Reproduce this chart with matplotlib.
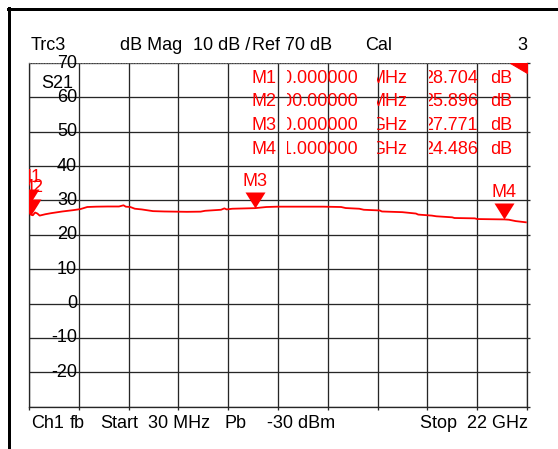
import numpy as np
import matplotlib
matplotlib.use("Agg")
import matplotlib.pyplot as plt
from matplotlib.transforms import Bbox
from matplotlib.lines import Line2D
from matplotlib.patches import Polygon

# trace S21, frequency in GHz, magnitude in dB
freq_ghz = [0.03, 0.06, 0.10, 0.20, 0.30, 0.40, 0.50, 0.75, 1.0, 1.5, 2.0, 2.3, 2.6,
            3.0, 3.5, 4.0, 4.2, 4.3, 4.5, 4.7, 5.0, 5.5, 6.0, 7.0, 7.6, 7.8, 8.5,
            8.65, 8.75, 9.0, 10.0, 10.5, 11.0, 12.0, 13.0, 13.8, 14.0, 14.6, 14.8,
            15.5, 15.6, 16.5, 17.1, 17.2, 17.8, 18.0, 18.7, 18.8, 19.7, 19.8, 21.0,
            21.2, 21.5, 21.95]
s21_db = [28.70, 26.5, 25.90, 25.7, 26.5, 26.2, 25.6, 26.0, 26.3, 26.8, 27.2, 27.5, 28.1,
          28.2, 28.25, 28.25, 28.6, 28.2, 28.1, 27.6, 27.4, 26.9, 26.8, 26.7, 26.75, 27.0, 27.3,
          27.7, 27.4, 27.6, 27.77, 28.1, 28.2, 28.2, 28.2, 28.1, 27.8, 27.6, 27.3,
          27.1, 26.8, 26.6, 26.2, 25.9, 25.6, 25.4, 25.1, 24.9, 24.8, 24.6, 24.49,
          24.4, 24.0, 23.65]

marker_names = ["M1", "M2", "M3", "M4"]
marker_freq_ghz = [0.03, 0.1, 10.0, 21.0]
marker_db = [28.704, 25.896, 27.771, 24.486]
marker_freq_text = ["30.000000", "100.00000", "10.000000", "21.000000"]
marker_freq_unit = ["MHz", "MHz", "GHz", "GHz"]

y_ticks = [70, 60, 50, 40, 30, 20, 10, 0, -10, -20]
header_items = ["Trc3", "dB Mag", "10 dB /", "Ref 70 dB", "Cal"]
header_right = "3"
footer_items = ["Ch1", "fb", "Start", "30 MHz", "Pb", "-30 dBm"]
footer_right = "Stop  22 GHz"

W, H = 558, 449
DPI = 72
FONT = ["Liberation Sans", "DejaVu Sans"]
FS = 18
RED = "#ff0000"

fig = plt.figure(figsize=(W / DPI, H / DPI), dpi=DPI)
fig.patch.set_facecolor("white")

def fx(x):
    return x / W

def fy(y):
    return 1 - y / H

# grid box in pixels
gx0, gx1, gy0, gy1 = 29, 527, 63, 406.7
ax = fig.add_axes([fx(gx0), fy(gy1), (gx1 - gx0) / W, (gy1 - gy0) / H])
ax.set_xlim(0.03, 22)
ax.set_ylim(-30, 70)
ax.set_xticks(np.linspace(0.03, 22, 11))
ax.set_yticks(np.arange(-30, 71, 10))
ax.grid(True, color="#262626", lw=1.3)
ax.tick_params(left=False, top=False, bottom=True, right=True, length=2.5,
               width=1.3, color="#262626", labelbottom=False, labelleft=False)
for s in ["left", "bottom", "right"]:
    ax.spines[s].set_color("#262626")
    ax.spines[s].set_linewidth(1.3)
ax.spines["top"].set_linestyle(":")
ax.spines["top"].set_color("#666666")
ax.spines["top"].set_linewidth(1)

# y labels inside the grid
for v in y_ticks:
    ax.text((77 - gx0) / (gx1 - gx0), v, str(v), transform=ax.get_yaxis_transform(),
            ha="right", va="center", fontsize=FS, family=FONT, color="black")
fig.text(fx(41), fy(84), "S21", ha="left", va="center", fontsize=FS, family=FONT)

# trace
ax.plot(freq_ghz, s21_db, color=RED, lw=1.8, zorder=4)

# marker triangles and labels
tri = [(0, 0), (-10, 16), (10, 16)]
for name, f, d in zip(marker_names, marker_freq_ghz, marker_db):
    ax.plot([f], [d], marker=tri, ms=32, color=RED, mec=RED, mew=0, ls="none", zorder=5)
    ax.annotate(name, (f, d), xytext=(0, 27), textcoords="offset points",
                ha="center", va="center", color=RED, fontsize=FS, family=FONT,
                clip_on=True, zorder=5)

# red corner flag
ax.add_patch(Polygon([(1 - 17 / (gx1 - gx0), 1), (1, 1), (1, 1 - 10 / (gy1 - gy0))],
                     closed=True, transform=ax.transAxes, color=RED, clip_on=False, zorder=6))

# marker table, fields clipped at their left edge
row_y = [78.5, 102, 125.5, 149]

def clipped(x_right, y, s, clip_left):
    t = fig.text(fx(x_right), fy(y), s, ha="right", va="center", fontsize=FS,
                 family=FONT, color=RED)
    t.set_clip_box(Bbox.from_extents(clip_left, 0, W, H))
    t.set_clip_on(True)

for i, name in enumerate(marker_names):
    y = row_y[i]
    fig.text(fx(251), fy(y), name, ha="left", va="center", fontsize=FS, family=FONT, color=RED)
    clipped(358, y, marker_freq_text[i], 287)
    clipped(407, y, marker_freq_unit[i], 377)
    clipped(478, y, "%.3f" % marker_db[i], 429)
    clipped(512, y, "dB", 492)

# header and footer
header_x = [31, 120, 193, 252, 365]
for s, x in zip(header_items, header_x):
    fig.text(fx(x), fy(46), s, ha="left", va="center", fontsize=FS, family=FONT)
fig.text(fx(527), fy(46), header_right, ha="right", va="center", fontsize=FS, family=FONT)

footer_x = [31, 70, 100, 148, 224, 267]
for s, x in zip(footer_items, footer_x):
    fig.text(fx(x), fy(424), s, ha="left", va="center", fontsize=FS, family=FONT)
fig.text(fx(528), fy(424), footer_right, ha="right", va="center", fontsize=FS, family=FONT)

# outer frame (top and left)
fig.add_artist(Line2D([fx(8), fx(W)], [fy(9), fy(9)], color="black", lw=3))
fig.add_artist(Line2D([fx(9), fx(9)], [fy(8), fy(H)], color="black", lw=3))

fig.savefig("out.png", dpi=DPI)
